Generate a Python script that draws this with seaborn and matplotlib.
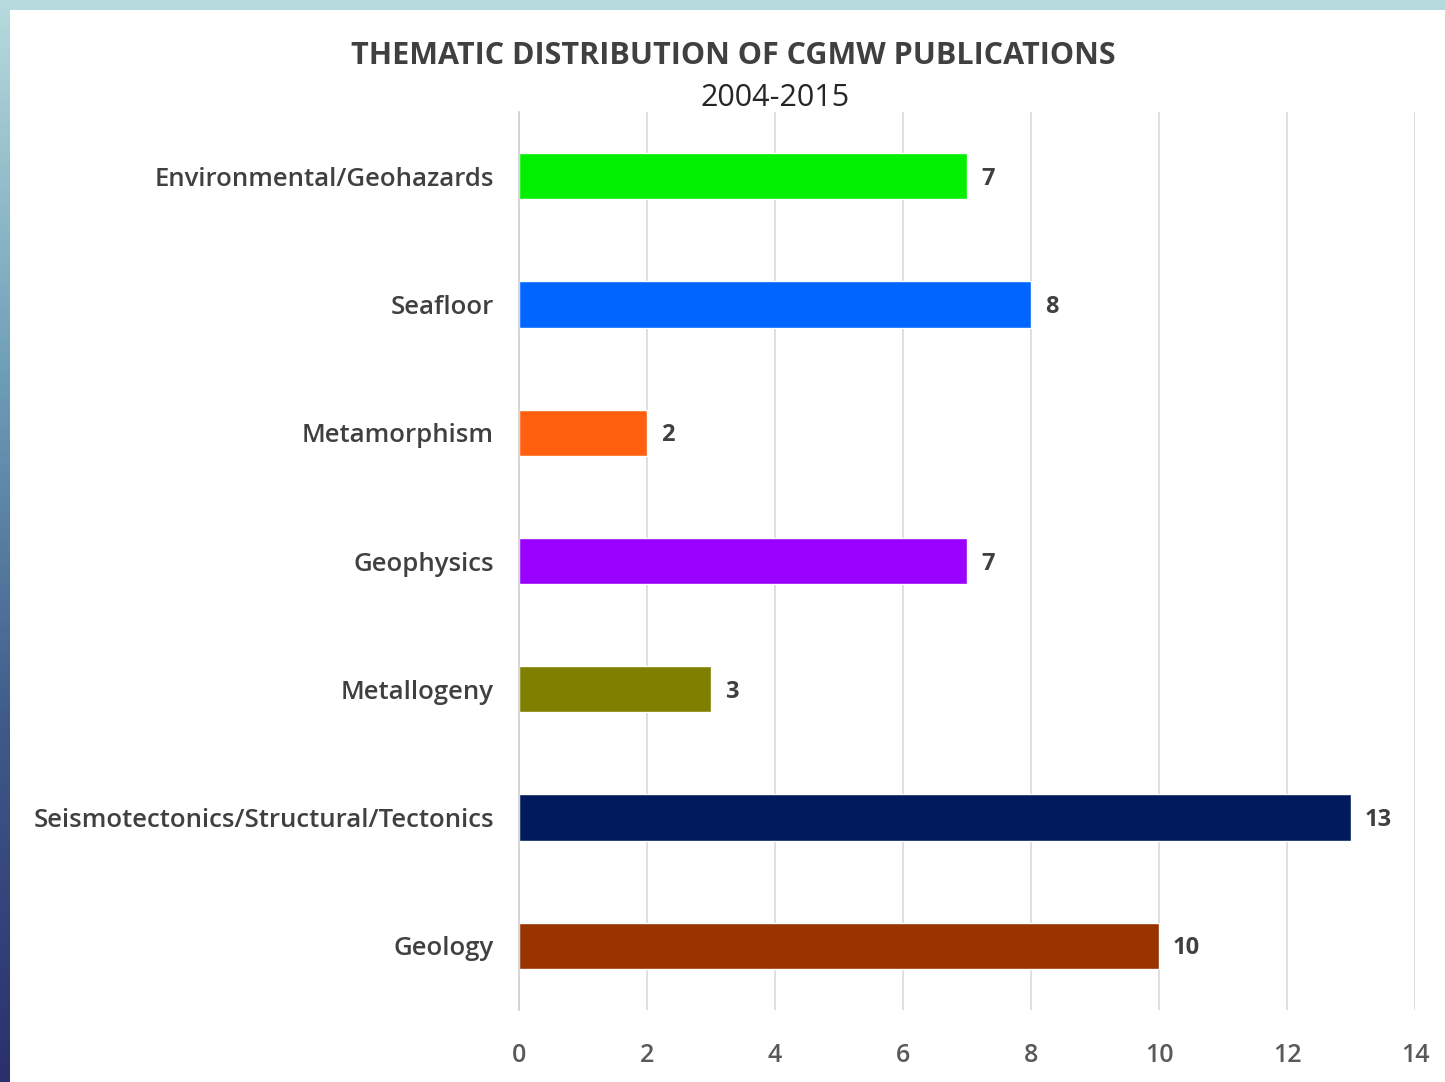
import matplotlib
matplotlib.use("Agg")
import matplotlib.pyplot as plt
import seaborn as sns
import numpy as np
import pandas as pd
from matplotlib.patches import Rectangle
from matplotlib.colors import LinearSegmentedColormap

categories = ["Environmental/Geohazards", "Seafloor", "Metamorphism", "Geophysics",
              "Metallogeny", "Seismotectonics/Structural/Tectonics", "Geology"]
values = [7, 8, 2, 7, 3, 13, 10]
colors = ["#00f000", "#0066ff", "#ff6010", "#9900ff", "#808000", "#001a5c", "#993300"]
xticks = [0, 2, 4, 6, 8, 10, 12, 14]
title1 = "THEMATIC DISTRIBUTION OF CGMW PUBLICATIONS"
title2 = "2004-2015"

sns.set_theme(style="white")
plt.rcParams['font.family'] = ['Open Sans', 'DejaVu Sans']

fig = plt.figure(figsize=(14.45, 10.82), dpi=100)
fig.patch.set_facecolor("white")

# frame: top strip and left gradient strip
fig.patches.append(Rectangle((0, 1 - 10/1082), 1, 10/1082, transform=fig.transFigure,
                             facecolor="#b5d9dc", edgecolor="none", zorder=0))
gax = fig.add_axes([0, 0, 10/1445, 1 - 10/1082])
cmap = LinearSegmentedColormap.from_list("g", ["#b5d9dc", "#6f9fb8", "#3f5a8a", "#2a2f6e"])
gax.imshow(np.linspace(0, 1, 256).reshape(-1, 1), aspect="auto", cmap=cmap)
gax.axis("off")

ax = fig.add_axes([519/1445, 72/1082, (1415-519)/1445, (1010-112)/1082])
df = pd.DataFrame({"cat": categories, "val": values})
sns.barplot(data=df, y="cat", x="val", hue="cat", palette=colors, legend=False,
            orient="h", width=0.36, ax=ax, saturation=1)

ax.set_xlim(0, 14)
ax.set_ylim(6.5, -0.5)
ax.set_xticks(xticks)
ax.set_xticklabels([str(t) for t in xticks])
ax.xaxis.grid(True, color="#d9d9d9", linewidth=1.2)
ax.set_axisbelow(True)
for s in ["top", "right", "bottom"]:
    ax.spines[s].set_visible(False)
ax.spines["left"].set_color("#d0d0d0")
ax.spines["left"].set_linewidth(1.2)
ax.set_xlabel("")
ax.set_ylabel("")
ax.tick_params(axis="y", labelsize=18.5, labelcolor="#404040", pad=18, length=0)
ax.tick_params(axis="x", labelsize=18, labelcolor="#595959", pad=24, length=0)
for lab in ax.get_yticklabels() + ax.get_xticklabels():
    lab.set_fontweight("semibold")

for i, v in enumerate(values):
    ax.text(v + 0.22, i + 0.02, str(v), va="center", ha="left", fontsize=17,
            fontweight="bold", color="#404040")

fig.text(733/1445, 1 - 56/1082, title1, ha="center", va="center", fontsize=22,
         fontweight="bold", color="#404040")
fig.text(775/1445, 1 - 98/1082, title2, ha="center", va="center", fontsize=22,
         color="#262626")

fig.savefig("out.png", dpi=100)
